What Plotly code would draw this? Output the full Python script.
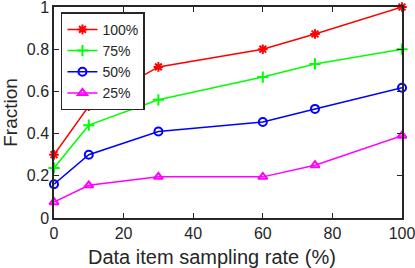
import plotly.graph_objects as go

x = [0, 10, 30, 60, 75, 100]
s100 = [0.30, 0.53, 0.716, 0.80, 0.872, 1.0]
s75 = [0.237, 0.44, 0.56, 0.668, 0.73, 0.80]
s50 = [0.16, 0.30, 0.41, 0.455, 0.517, 0.617]
s25 = [0.075, 0.155, 0.195, 0.195, 0.25, 0.39]
names = ["100%", "75%", "50%", "25%"]
colors = ["#ff0000", "#00ff00", "#0000ff", "#ff00ff"]
symbols = ["asterisk-open", "cross-thin-open", "circle-open", "triangle-up-open"]
xticks = [0, 20, 40, 60, 80, 100]
yticks = [0, 0.2, 0.4, 0.6, 0.8, 1]
ytick_text = ["0", "0.2", "0.4", "0.6", "0.8", "1"]
x_title = "Data item sampling rate (%)"
y_title = "Fraction"

fig = go.Figure()
for name, ys, c, sym in zip(names, [s100, s75, s50, s25], colors, symbols):
    fig.add_trace(go.Scatter(
        x=x, y=ys, name=name, mode="lines+markers",
        line=dict(color=c, width=1.5),
        marker=dict(symbol=sym, size=8, color=c, line=dict(color=c, width=2)),
        cliponaxis=False,
    ))

axis_common = dict(
    showline=True, linecolor="#262626", linewidth=1.5, mirror="ticks",
    ticks="inside", ticklen=5, tickcolor="#262626", showgrid=False, zeroline=False,
    tickfont=dict(size=16, color="#262626"), automargin=False,
    ticklabeloverflow="allow",
)
fig.update_layout(
    width=415, height=268,
    margin=dict(l=54, r=13, t=7, b=50),
    paper_bgcolor="white", plot_bgcolor="white",
    font=dict(family="Liberation Sans, Arial, sans-serif", color="#262626"),
    xaxis=dict(range=[0, 100], tickvals=xticks, **axis_common),
    yaxis=dict(range=[0, 1], tickvals=yticks, ticktext=ytick_text,
               title=dict(text=y_title, font=dict(size=19), standoff=5),
               **axis_common),
    legend=dict(x=0.02, y=0.975, xanchor="left", yanchor="top", bordercolor="#262626", borderwidth=1.5,
                bgcolor="white", font=dict(size=14), tracegroupgap=0, itemwidth=30),
    showlegend=True,
    annotations=[dict(text=x_title, xref="paper", yref="paper", x=0.455, y=-0.185,
                      xanchor="center", yanchor="middle", showarrow=False,
                      font=dict(size=20, color="#262626"))],
)
fig.write_html("out.html", config={"displayModeBar": False},
               post_script="document.body.style.margin='0';")
